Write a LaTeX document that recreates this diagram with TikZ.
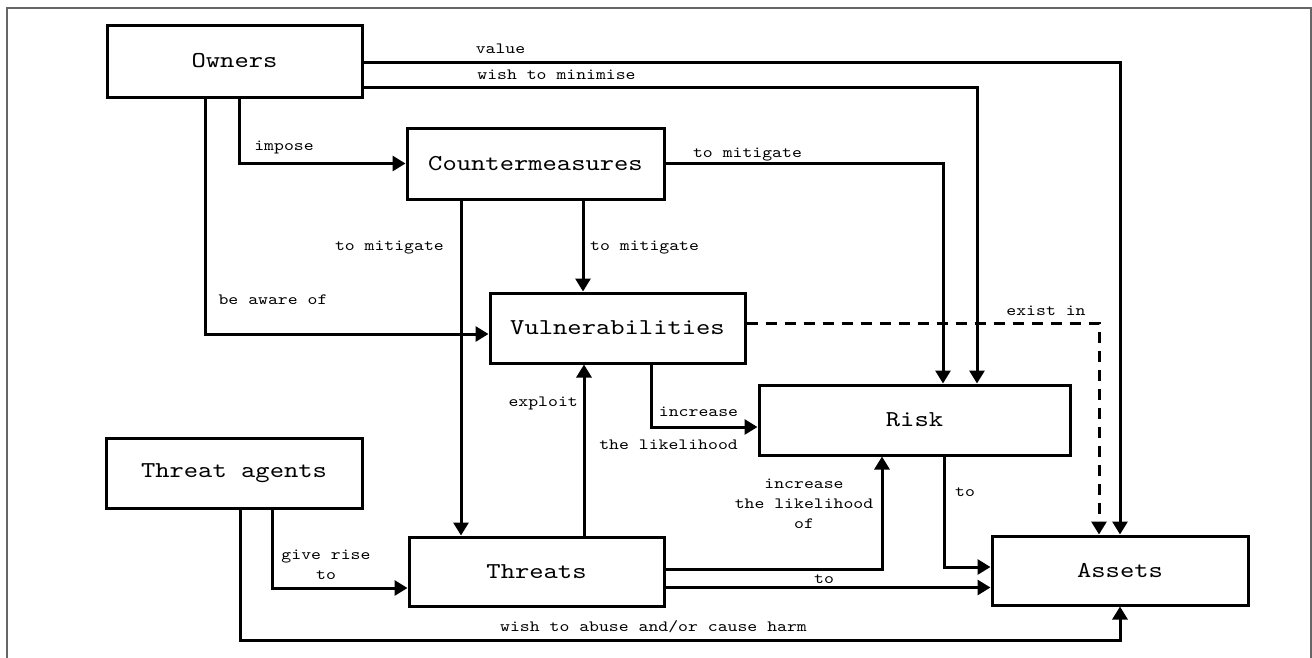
\documentclass[tikz,border=0pt]{standalone}
\usepackage{fontspec}
\newfontfamily\monofam[FakeStretch=1.2]{lmmono10-regular.otf}
\usetikzlibrary{arrows.meta}
\newcommand\bxfont{\monofam\fontsize{22.7}{28}\selectfont}
\newcommand\lbfont{\monofam\fontsize{15.7}{20}\selectfont}
\begin{document}
\begin{tikzpicture}[x=1pt,y=-1pt,
  box/.style={draw, line width=3pt, inner sep=0pt, font=\bxfont},
  lbl/.style={font=\lbfont, inner sep=0pt},
  arr/.style={line width=3pt, -{Triangle[length=13pt,width=15pt]}},
  framec/.style={draw=black!60, line width=1.2pt}]
\useasboundingbox (0,0) rectangle (1312,657);
\draw[framec] (7,665) -- (7,8) -- (1311,8) -- (1311,665);

% boxes
\node[box, minimum width=255pt, minimum height=72pt] (owners) at (234.5,61) {Owners};
\node[box, minimum width=257pt, minimum height=71pt] (counter) at (535.5,163.5) {Countermeasures};
\node[box, minimum width=255pt, minimum height=70pt] (vuln) at (617.5,328) {Vulnerabilities};
\node[box, minimum width=311pt, minimum height=70pt] (risk) at (914.5,420) {Risk};
\node[box, minimum width=256pt, minimum height=70pt] (tagents) at (234,473) {Threat agents};
\node[box, minimum width=255pt, minimum height=69pt] (threats) at (536.5,571.5) {Threats};
\node[box, minimum width=256pt, minimum height=69pt] (assets) at (1120,570.5) {Assets};

% connectors
\draw[arr] ([yshift=-1pt]owners.east) -| (assets.north);
\draw[arr] ([yshift=-26pt]owners.east) -| ([xshift=62.5pt]risk.north);
\draw[arr] ([xshift=4.5pt]owners.south) |- (counter.west);
\draw[arr] ([xshift=-29.5pt]owners.south) |- ([yshift=-6pt]vuln.west);
\draw[arr] (counter.east) -| ([xshift=28.5pt]risk.north);
\draw[arr] ([xshift=47.5pt]counter.south) -- ([xshift=47.5pt]counter.south |- vuln.north);
\draw[arr] ([xshift=-74.5pt]counter.south) -- ([xshift=-74.5pt]counter.south |- threats.north);
\draw[arr] ([xshift=47.5pt]threats.north) -- ([xshift=47.5pt]threats.north |- vuln.south);
\draw[arr] ([xshift=33.5pt]vuln.south) |- ([yshift=-7pt]risk.west);
\draw[arr, dash pattern=on 11pt off 8pt] ([yshift=5pt]vuln.east) -| ([xshift=-21pt]assets.north);
\draw[arr] ([xshift=29.5pt]risk.south) |- ([yshift=3.5pt]assets.west);
\draw[arr] ([yshift=2.5pt]threats.east) -| ([xshift=-32.5pt]risk.south);
\draw[arr] ([yshift=-16pt]threats.east) -- ([yshift=-16pt]threats.east -| assets.west);
\draw[arr] ([xshift=38pt]tagents.south) |- ([yshift=-16.5pt]threats.west);
\draw[arr] ([xshift=6pt]tagents.south) |- ([yshift=-34pt]assets.south) -- (assets.south);

% labels
\node[lbl] (l1) at (500.5,49) {value};
\node[lbl] (l2) at (556.5,75) {wish to minimise};
\node[lbl] (l3) at (284,147) {impose};
\node[lbl] (l4) at (273,300) {be aware of};
\node[lbl] (l5) at (747.5,155) {to mitigate};
\node[lbl, anchor=west] (l6) at (590,248) {to mitigate};
\node[lbl, anchor=east] (l7) at (444,248) {to mitigate};
\node[lbl, anchor=east] (l8) at (578,403) {exploit};
\node[lbl] (l9) at (698.5,412) {increase};
\node[lbl, anchor=east] (l10) at (738,445) {the likelihood};
\node[lbl] (l11) at (1046,311) {exist in};
\node[lbl] (l12) at (965,492) {to};
\node[lbl, align=center] (l13) at (804,504) {increase\\the likelihood\\of};
\node[lbl] (l14) at (824,579) {to};
\node[lbl, align=center] (l15) at (326,565) {give rise\\to};
\node[lbl] (l16) at (653.5,627) {wish to abuse and/or cause harm};
\end{tikzpicture}
\end{document}
